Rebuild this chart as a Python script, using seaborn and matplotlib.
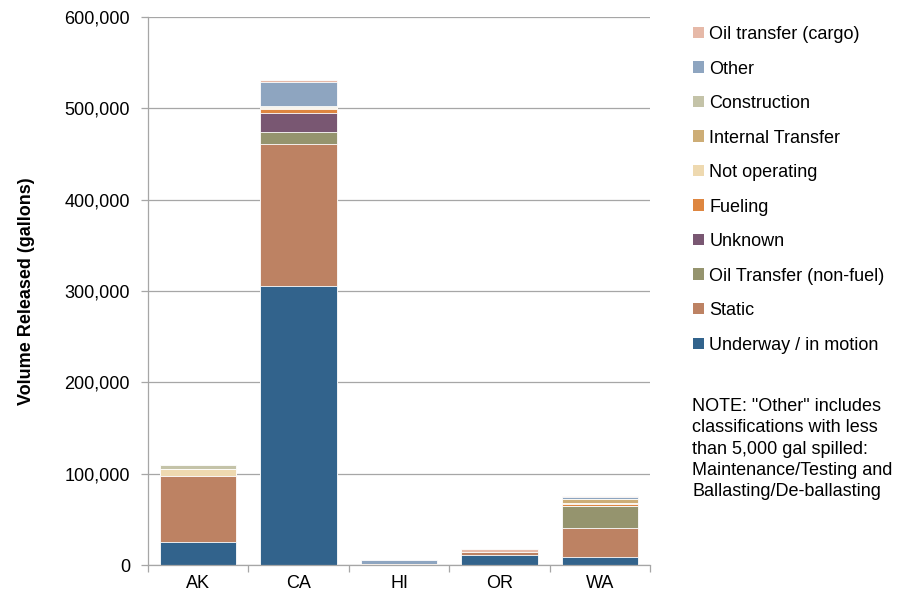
import numpy as np
import pandas as pd
import seaborn as sns
import matplotlib.pyplot as plt
from matplotlib.patches import Patch
from matplotlib.ticker import FuncFormatter, FixedLocator

sns.set_style("white")
plt.rcParams["font.family"] = ["Liberation Sans", "DejaVu Sans"]
plt.rcParams["text.color"] = "black"

# states on the x axis
states = ["AK", "CA", "HI", "OR", "WA"]

# gallons released per operation type, bottom layer first
underway = [25100, 305000, 0, 11600, 9400]
static = [72300, 155300, 500, 2900, 31700]
oil_transfer_nonfuel = [0, 13100, 0, 0, 23700]
unknown = [0, 20800, 0, 0, 0]
fueling = [0, 4700, 1000, 0, 2200]
not_operating = [7600, 1000, 0, 0, 800]
internal_transfer = [0, 1200, 300, 0, 4400]
construction = [4300, 1000, 0, 0, 500]
other = [0, 26600, 3600, 0, 1600]
oil_transfer_cargo = [0, 1800, 400, 3300, 1800]

layers = [
    ("Underway / in motion", underway, "#32638C"),
    ("Static", static, "#BD8263"),
    ("Oil Transfer (non-fuel)", oil_transfer_nonfuel, "#95946E"),
    ("Unknown", unknown, "#795772"),
    ("Fueling", fueling, "#DE8640"),
    ("Not operating", not_operating, "#EED9B0"),
    ("Internal Transfer", internal_transfer, "#CDAD76"),
    ("Construction", construction, "#C4C3A8"),
    ("Other", other, "#8EA5C0"),
    ("Oil transfer (cargo)", oil_transfer_cargo, "#E6B9A8"),
]

df = pd.DataFrame({"state": states})
running = np.zeros(len(states))
for name, vals, _ in layers:
    running = running + np.array(vals)
    df[name] = running

fig = plt.figure(figsize=(9.11, 5.95), dpi=100)
ax = fig.add_axes([148 / 911, 29.7 / 595, 502 / 911, 548.6 / 595])

# draw cumulative totals from the top layer down so each one covers the next
for name, _, color in reversed(layers):
    sns.barplot(data=df, x="state", y=name, color=color, saturation=1,
                width=0.76, edgecolor="white", linewidth=0.6, ax=ax)

ax.set_xlim(-0.5, 4.5)
ax.set_ylim(0, 600000)
ax.set_yticks(np.arange(0, 600001, 100000))
ax.yaxis.set_major_formatter(FuncFormatter(lambda v, p: f"{int(v):,}"))
ax.yaxis.grid(True, color="#A6A6A6", linewidth=0.9)
ax.set_axisbelow(True)

for side in ["top", "right"]:
    ax.spines[side].set_visible(False)
for side in ["left", "bottom"]:
    ax.spines[side].set_color("#A6A6A6")
    ax.spines[side].set_linewidth(0.9)

ax.tick_params(axis="y", which="major", left=True, length=5, width=0.9,
               color="#A6A6A6", pad=8, labelsize=13, labelcolor="black")
ax.tick_params(axis="x", which="major", bottom=False, length=0, pad=7,
               labelsize=13, labelcolor="black")
ax.xaxis.set_minor_locator(FixedLocator(np.arange(-0.5, 5, 1)))
ax.tick_params(axis="x", which="minor", bottom=True, length=5, width=0.9,
               color="#A6A6A6")

ax.set_xlabel("")
ax.set_ylabel("Volume Released (gallons)", fontsize=13, fontweight="bold",
              labelpad=21, color="black")

handles = [Patch(facecolor=c, edgecolor="none", label=n) for n, _, c in reversed(layers)]
fig.legend(handles=handles, loc="upper left",
           bbox_to_anchor=(693 / 911, 1 - 26 / 595), frameon=False,
           fontsize=13, handlelength=0.6, handleheight=0.6,
           handletextpad=0.3, labelspacing=0.97, borderpad=0, borderaxespad=0)

fig.text(692 / 911, 1 - 398 / 595,
         'NOTE: "Other" includes\nclassifications with less\nthan 5,000 gal spilled:\n'
         "Maintenance/Testing and\nBallasting/De-ballasting",
         fontsize=13, va="top", ha="left", linespacing=1.33)

fig.savefig("out.png", dpi=100)
